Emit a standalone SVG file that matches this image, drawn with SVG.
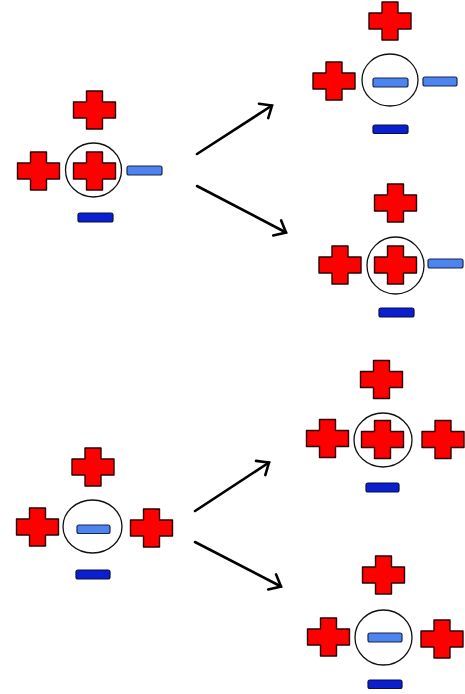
<svg xmlns="http://www.w3.org/2000/svg" xmlns:xlink="http://www.w3.org/1999/xlink" width="465" height="694" viewBox="0 0 465 694">
<style>
.plus{fill:#ff0000;stroke:#2a0000;stroke-width:1.4;stroke-linejoin:round}
.ml{fill:#4d84ee;stroke:#1a2550;stroke-width:1.2}
.md{fill:#0a1fd0;stroke:#0a0f40;stroke-width:1.2}
.ring{fill:none;stroke:#111;stroke-width:1.3}
.arrow{fill:none;stroke:#000;stroke-width:2.6;stroke-linecap:round}
</style>
<defs>
<path id="p" class="plus" d="M-8,-19 H8 V-8 H21 V8 H8 V19 H-8 V8 H-21 V-8 H-8 Z"/>
<marker id="ah" markerUnits="userSpaceOnUse" markerWidth="24" markerHeight="24" refX="12" refY="12" orient="auto" viewBox="0 0 24 24">
<polyline points="2,3.5 12,12 2,20.5" fill="none" stroke="#000" stroke-width="2.6" stroke-linecap="round" stroke-linejoin="miter"/>
</marker>
</defs>
<rect width="465" height="694" fill="#fff"/>
<g id="g1">
<use xlink:href="#p" x="94.5" y="110"/>
<use xlink:href="#p" x="38.5" y="171"/>
<ellipse class="ring" cx="93.5" cy="170" rx="28" ry="27"/>
<use xlink:href="#p" x="94.5" y="171"/>
<rect class="ml" x="127" y="166" width="35" height="9" rx="2"/>
<rect class="md" x="78" y="213" width="35" height="9" rx="2"/>
</g>
<g id="g2">
<use xlink:href="#p" x="390" y="21"/>
<use xlink:href="#p" x="334" y="81"/>
<ellipse class="ring" cx="390" cy="80" rx="28" ry="26"/>
<rect class="ml" x="373" y="78" width="35" height="9" rx="2"/>
<rect class="ml" x="423" y="77" width="34" height="9" rx="2"/>
<rect class="md" x="373" y="125" width="35" height="8.5" rx="2"/>
</g>
<g id="g3">
<use xlink:href="#p" x="395.5" y="203"/>
<use xlink:href="#p" x="340" y="265"/>
<ellipse class="ring" cx="395.5" cy="265.5" rx="28.5" ry="28.5"/>
<use xlink:href="#p" x="395.5" y="265"/>
<rect class="ml" x="428" y="259" width="35" height="9" rx="2"/>
<rect class="md" x="379" y="308" width="35" height="9" rx="2"/>
</g>
<g id="g4">
<use xlink:href="#p" x="93" y="467"/>
<use xlink:href="#p" x="37.5" y="527"/>
<ellipse class="ring" cx="92.5" cy="526.5" rx="29.5" ry="26.5"/>
<rect class="ml" x="77" y="525" width="33" height="8.5" rx="2"/>
<use xlink:href="#p" x="151.5" y="528"/>
<rect class="md" x="76" y="570" width="34" height="9" rx="2"/>
</g>
<g id="g5">
<use xlink:href="#p" x="381.5" y="379.5"/>
<use xlink:href="#p" x="327.5" y="438.5"/>
<ellipse class="ring" cx="383" cy="440" rx="29" ry="27"/>
<use xlink:href="#p" x="382.5" y="439.5"/>
<use xlink:href="#p" x="443" y="439.5"/>
<rect class="md" x="366" y="483" width="33" height="9" rx="2"/>
</g>
<g id="g6">
<use xlink:href="#p" x="383.5" y="575"/>
<use xlink:href="#p" x="328.5" y="637"/>
<ellipse class="ring" cx="383.5" cy="637.5" rx="28.5" ry="27.5"/>
<rect class="ml" x="368" y="633" width="34" height="9" rx="2"/>
<use xlink:href="#p" x="442" y="639"/>
<rect class="md" x="368" y="680" width="34" height="8.5" rx="2"/>
</g>
<g id="connectors">
<line class="arrow" x1="197" y1="154" x2="272" y2="105.5" marker-end="url(#ah)"/>
<line class="arrow" x1="197" y1="186" x2="286" y2="232.5" marker-end="url(#ah)"/>
<line class="arrow" x1="195" y1="511" x2="269" y2="462.5" marker-end="url(#ah)"/>
<line class="arrow" x1="195" y1="542" x2="281" y2="586.5" marker-end="url(#ah)"/>
</g>
</svg>
